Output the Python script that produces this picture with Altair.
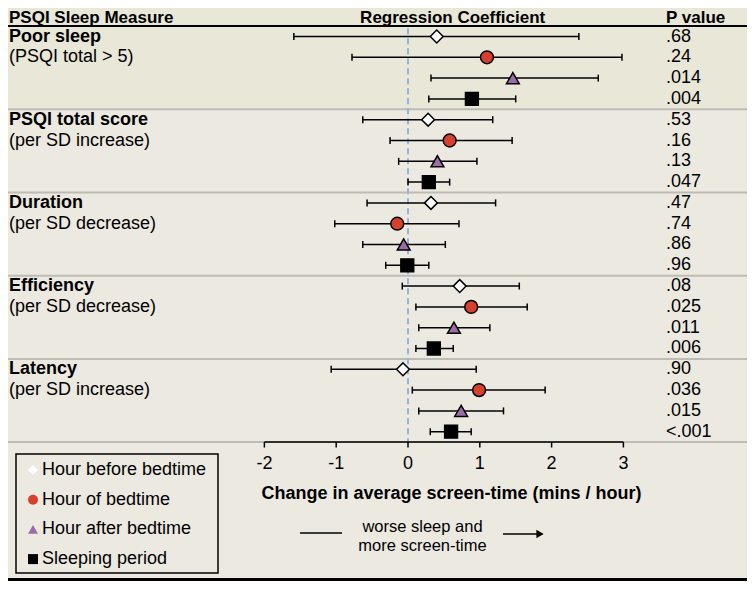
import altair as alt
import pandas as pd

# ---------------- data ----------------
series = ["Hour before bedtime", "Hour of bedtime", "Hour after bedtime", "Sleeping period"]
shapes = ["diamond", "circle", "triangle-up", "square"]
fills = ["#FFFFFF", "#D7412B", "#9A6CA8", "#000000"]

measures = ["Poor sleep", "PSQI total score", "Duration", "Efficiency", "Latency"]
subs = ["(PSQI total > 5)", "(per SD increase)", "(per SD decrease)",
        "(per SD decrease)", "(per SD increase)"]

est = [0.40, 1.10, 1.46, 0.89,
       0.28, 0.58, 0.41, 0.29,
       0.32, -0.15, -0.06, -0.01,
       0.72, 0.88, 0.64, 0.36,
       -0.07, 0.99, 0.74, 0.60]
lo = [-1.59, -0.78, 0.32, 0.29,
      -0.63, -0.25, -0.13, 0.00,
      -0.57, -1.02, -0.63, -0.31,
      -0.08, 0.11, 0.15, 0.11,
      -1.07, 0.06, 0.15, 0.31]
hi = [2.38, 2.98, 2.65, 1.50,
      1.18, 1.45, 0.96, 0.58,
      1.22, 0.71, 0.52, 0.29,
      1.55, 1.66, 1.14, 0.63,
      0.95, 1.91, 1.33, 0.88]
pvals = [".68", ".24", ".014", ".004",
         ".53", ".16", ".13", ".047",
         ".47", ".74", ".86", ".96",
         ".08", ".025", ".011", ".006",
         ".90", ".036", ".015", "<.001"]

tick_values = [-2, -1, 0, 1, 2, 3]
tick_labels = ["-2", "-1", "0", "1", "2", "3"]
separators = [3.5, 7.5, 11.5, 15.5, 19.5]
headers = ["PSQI Sleep Measure", "Regression Coefficient", "P value"]
axis_title = "Change in average screen-time (mins / hour)"
note_lines = ["worse sleep and", "more screen-time"]

# ---------------- tables ----------------
n = len(est)
df = pd.DataFrame({
    "row": list(range(n)),
    "series": [series[i % 4] for i in range(n)],
    "est": est, "lo": lo, "hi": hi, "p": pvals,
})
lab = pd.DataFrame({"row": [4 * i for i in range(len(measures))], "text": measures})
sub = pd.DataFrame({"row": [4 * i + 1 for i in range(len(subs))], "text": subs})
sep = pd.DataFrame({"row": separators})
ticks_df = pd.DataFrame({"v": tick_values, "label": tick_labels})
one = pd.DataFrame({"a": [0]})

W, H = 739, 573
FONT = "Liberation Sans"
AXIS_ROW = separators[-1]
X = alt.Scale(domain=[-400 / 71.8, (W - 400) / 71.8], nice=False, zero=False)
Y = alt.Scale(domain=[-1.3702, 26.1779], reverse=True, nice=False, zero=False)

# top (header + poor sleep) band
band = alt.Chart(pd.DataFrame({"top": [-1.3702], "bot": [3.5]})).mark_rect(
    color="#E8E7D8").encode(
    x=alt.value(0), x2=alt.value(W),
    y=alt.Y("top:Q", scale=Y, axis=None), y2="bot:Q")

sep_rules = alt.Chart(sep).mark_rule(color="#BDBCB4", strokeWidth=2).encode(
    y=alt.Y("row:Q", scale=Y, axis=None), x=alt.value(0), x2=alt.value(W))

head_rule = alt.Chart(pd.DataFrame({"row": [-0.5]})).mark_rule(
    color="black", strokeWidth=2).encode(
    y=alt.Y("row:Q", scale=Y, axis=None), x=alt.value(0), x2=alt.value(W))

axis_line = alt.Chart(pd.DataFrame({"x0": [min(tick_values)], "x1": [max(tick_values)],
                                    "row": [AXIS_ROW]})).mark_rule(
    color="black", strokeWidth=1.5).encode(
    x=alt.X("x0:Q", scale=X, axis=None), x2="x1:Q",
    y=alt.Y("row:Q", scale=Y, axis=None))

axis_ticks = alt.Chart(ticks_df).transform_calculate(
    r0=str(AXIS_ROW), r1=str(AXIS_ROW + 0.26)).mark_rule(
    color="black", strokeWidth=1.5).encode(
    x=alt.X("v:Q", scale=X, axis=None),
    y=alt.Y("r0:Q", scale=Y, axis=None), y2="r1:Q")

axis_labels = alt.Chart(ticks_df).mark_text(
    align="center", baseline="middle", fontSize=18, font=FONT, color="black").encode(
    x=alt.X("v:Q", scale=X, axis=None), y=alt.value(456), text="label:N")

axis_title_text = alt.Chart(one).mark_text(
    align="center", baseline="alphabetic", fontSize=18, font=FONT,
    fontWeight="bold", color="black").encode(
    x=alt.value(443.5), y=alt.value(491), text=alt.value(axis_title))

zero_line = alt.Chart(pd.DataFrame({"x": [0], "r0": [-0.4], "r1": [AXIS_ROW]})).mark_rule(
    color="#8DB6DE", strokeWidth=2, strokeDash=[6, 4]).encode(
    x=alt.X("x:Q", scale=X, axis=None),
    y=alt.Y("r0:Q", scale=Y, axis=None), y2="r1:Q")

ci = alt.Chart(df).mark_rule(color="black", strokeWidth=1.5).encode(
    x=alt.X("lo:Q", scale=X, axis=None), x2="hi:Q",
    y=alt.Y("row:Q", scale=Y, axis=None))

cap_lo = alt.Chart(df).mark_tick(orient="vertical", size=7, thickness=1.5,
                                 color="black", opacity=1).encode(
    x=alt.X("lo:Q", scale=X, axis=None), y=alt.Y("row:Q", scale=Y, axis=None))
cap_hi = alt.Chart(df).mark_tick(orient="vertical", size=7, thickness=1.5,
                                 color="black", opacity=1).encode(
    x=alt.X("hi:Q", scale=X, axis=None), y=alt.Y("row:Q", scale=Y, axis=None))

leg = alt.Legend(title=None, orient="none", legendX=10, legendY=447, padding=6,
                 rowPadding=11.7, labelFontSize=18, labelFont=FONT, labelColor="black",
                 labelOffset=0, labelLimit=400, symbolSize=100, symbolStrokeColor="black",
                 symbolStrokeWidth=1.2, symbolOffset=0)

points = alt.Chart(df).mark_point(filled=True, size=165, stroke="black",
                                  strokeWidth=1.5, opacity=1).encode(
    x=alt.X("est:Q", scale=X, axis=None),
    y=alt.Y("row:Q", scale=Y, axis=None),
    shape=alt.Shape("series:N", scale=alt.Scale(domain=series, range=shapes), legend=leg),
    fill=alt.Fill("series:N", scale=alt.Scale(domain=series, range=fills), legend=leg))

ptext = alt.Chart(df).mark_text(align="left", baseline="middle", fontSize=18,
                                font=FONT, color="black").encode(
    x=alt.value(658), y=alt.Y("row:Q", scale=Y, axis=None), text="p:N")

lab_text = alt.Chart(lab).mark_text(align="left", baseline="middle", fontSize=18,
                                    font=FONT, fontWeight="bold", color="black").encode(
    x=alt.value(1), y=alt.Y("row:Q", scale=Y, axis=None), text="text:N")
sub_text = alt.Chart(sub).mark_text(align="left", baseline="middle", fontSize=18,
                                    font=FONT, color="black").encode(
    x=alt.value(1), y=alt.Y("row:Q", scale=Y, axis=None), text="text:N")

head_pos = [(1, "left"), (444.7, "center"), (658, "left")]
head_layers = [
    alt.Chart(one).mark_text(align=al, baseline="middle", fontSize=17, font=FONT,
                             fontWeight="bold", color="black").encode(
        x=alt.value(px), y=alt.value(9.5), text=alt.value(t))
    for t, (px, al) in zip(headers, head_pos)
]

note_l = alt.Chart(one).mark_rule(color="black", strokeWidth=1.5).encode(
    x=alt.value(292), x2=alt.value(334), y=alt.value(525))
note_r = alt.Chart(one).mark_rule(color="black", strokeWidth=1.5).encode(
    x=alt.value(495), x2=alt.value(530), y=alt.value(526))
note_head = alt.Chart(one).mark_point(shape="triangle-right", filled=True, size=70,
                                      color="black", opacity=1).encode(
    x=alt.value(532), y=alt.value(526))
note_text = alt.Chart(one).mark_text(align="center", baseline="middle", fontSize=16.5,
                                     font=FONT, color="black", lineHeight=19).encode(
    x=alt.value(414.5), y=alt.value(519), text=alt.value(note_lines))

legend_box = alt.Chart(one).mark_rect(fillOpacity=0, stroke="black", strokeWidth=1.5).encode(
    x=alt.value(8), x2=alt.value(210), y=alt.value(446), y2=alt.value(565))

bottom_border = alt.Chart(one).mark_rect(color="black").encode(
    x=alt.value(0), x2=alt.value(W), y=alt.value(570), y2=alt.value(573))

chart = alt.layer(
    band, sep_rules, head_rule, zero_line, axis_line, axis_ticks, axis_labels,
    axis_title_text, ci, cap_lo, cap_hi, points,
    ptext, lab_text, sub_text, *head_layers, note_l, note_r, note_head, note_text,
    legend_box, bottom_border
).properties(
    width=W, height=H, padding=0, autosize=alt.AutoSizeParams(type="none")
).configure(
    background="#ECE9E1", font=FONT
).configure_view(strokeOpacity=0)

chart.save("out.html", embed_options={"renderer": "svg", "actions": False})
